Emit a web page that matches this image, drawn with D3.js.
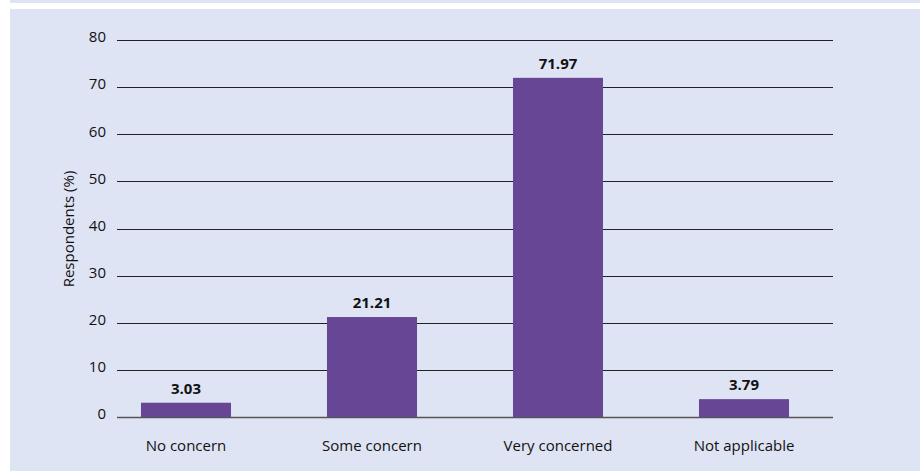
<!DOCTYPE html>
<html>
<head>
<meta charset="utf-8">
<script src="https://cdn.jsdelivr.net/npm/d3@7.9.0/dist/d3.min.js"></script>
<style>
  body { margin: 0; background: #fff; }
  svg { display: block; font-family: 'Open Sans', 'Noto Sans', sans-serif; }
</style>
</head>
<body>
<div id="chart"></div>
<script>
const categories = ['No concern', 'Some concern', 'Very concerned', 'Not applicable'];
const values = [3.03, 21.21, 71.97, 3.79];
const yTicks = [0, 10, 20, 30, 40, 50, 60, 70, 80];

const width = 920;
const height = 471;
const bg = '#dfe4f4';
const barColor = '#664695';

const svg = d3.select('#chart')
  .append('svg')
  .attr('width', width)
  .attr('height', height);

// background panels
svg.append('rect').attr('x', 10).attr('y', 0).attr('width', width - 10).attr('height', 3).attr('fill', bg);
svg.append('rect').attr('x', 10).attr('y', 9).attr('width', width - 10).attr('height', height - 9).attr('fill', bg);

const data = categories.map((c, i) => ({ cat: c, value: values[i] }));

const xScale = d3.scaleBand()
  .domain(categories)
  .range([93, 837])
  .paddingInner(0.516)
  .paddingOuter(0.258);

const yScale = d3.scaleLinear()
  .domain([0, 80])
  .range([417, 40]);

const gridL = 117;
const gridR = 833;

// Gridlines
svg.append('g')
  .selectAll('line')
  .data(yTicks)
  .enter()
  .append('line')
  .attr('x1', gridL)
  .attr('x2', gridR)
  .attr('y1', (d) => Math.round(yScale(d)) + 0.5)
  .attr('y2', (d) => Math.round(yScale(d)) + 0.5)
  .attr('stroke', (d) => (d === 0 ? '#555' : '#222'))
  .attr('stroke-width', (d) => (d === 0 ? 1.5 : 1));

// Y axis tick labels
const yAxis = d3.axisLeft(yScale).tickValues(yTicks).tickSize(0).tickPadding(0);
const yg = svg.append('g')
  .attr('transform', `translate(106, -3)`)
  .call(yAxis);
yg.select('.domain').remove();
yg.selectAll('text')
  .attr('fill', '#111')
  .style('font-size', '15px')
  .style('font-family', "'Open Sans', sans-serif");

// Y axis title
svg.append('text')
  .attr('transform', 'translate(74, 229) rotate(-90)')
  .attr('text-anchor', 'middle')
  .attr('fill', '#111')
  .style('font-size', '15px')
  .text('Respondents (%)');

// Bars
svg.selectAll('rect.bar')
  .data(data)
  .enter()
  .append('rect')
  .attr('class', 'bar')
  .attr('x', (d) => xScale(d.cat))
  .attr('y', (d) => yScale(d.value))
  .attr('width', xScale.bandwidth())
  .attr('height', (d) => yScale(0) - yScale(d.value))
  .attr('fill', barColor);

// Value labels
svg.selectAll('text.val')
  .data(data)
  .enter()
  .append('text')
  .attr('class', 'val')
  .attr('x', (d) => xScale(d.cat) + xScale.bandwidth() / 2)
  .attr('y', (d) => yScale(d.value) - 9)
  .attr('text-anchor', 'middle')
  .attr('fill', '#111')
  .style('font-size', '15px')
  .style('font-weight', 'bold')
  .text((d) => d.value.toFixed(2));

// X axis labels
const xAxis = d3.axisBottom(xScale).tickSize(0).tickPadding(0);
const xg = svg.append('g')
  .attr('transform', 'translate(0, 440)')
  .call(xAxis);
xg.select('.domain').remove();
xg.selectAll('text')
  .attr('fill', '#111')
  .style('font-size', '15px')
  .style('font-family', "'Open Sans', sans-serif");
</script>
</body>
</html>
